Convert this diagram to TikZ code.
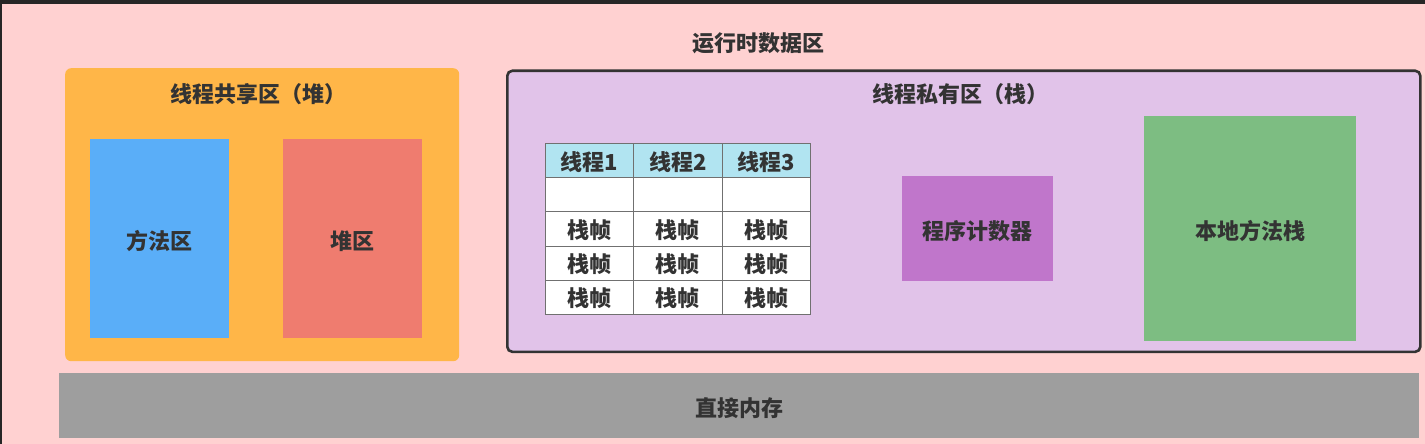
\documentclass[tikz,border=0pt]{standalone}
\usepackage{fontspec}
\setmainfont{Noto Sans CJK SC}
\begin{document}
\begin{tikzpicture}[x=1pt,y=-1pt,
  txt/.style={font=\fontsize{22}{25}\selectfont\bfseries, text=textc, inner sep=0pt},
  lbl/.style={txt, yshift=-2pt},
  area/.style={anchor=north west, inner sep=0pt, draw=none},
  cell/.style={anchor=north west, draw=gridc, line width=0.9pt, fill=white, minimum width=88.33pt, minimum height=34.2pt, inner sep=0pt, text depth=0pt, font=\fontsize{22}{25}\selectfont\bfseries, text=textc}
]
\definecolor{pinkbg}{HTML}{FFD1D1}
\definecolor{darkbg}{HTML}{262626}
\definecolor{orangec}{HTML}{FFB648}
\definecolor{bluec}{HTML}{5AAEF8}
\definecolor{redc}{HTML}{EF7C6F}
\definecolor{purplebg}{HTML}{E1C3E9}
\definecolor{purplec}{HTML}{C076CB}
\definecolor{greenc}{HTML}{7DBD82}
\definecolor{grayc}{HTML}{9E9E9E}
\definecolor{headc}{HTML}{B1E4F1}
\definecolor{gridc}{HTML}{707070}
\definecolor{textc}{HTML}{333333}
\definecolor{borderc}{HTML}{333333}

\useasboundingbox (0,0) rectangle (1425,444);
\fill[darkbg] (0,0) rectangle (1425,444);
\fill[pinkbg] (2,4) rectangle (1425,444);

\node[txt] (title) at (758,43) {运行时数据区};

% shared area
\node[area, fill=orangec, rounded corners=6pt, minimum width=394pt, minimum height=293pt] (shared) at (65,68) {};
\node[txt] (sharedtitle) at (258,94) {线程共享区（堆）};
\node[area, fill=bluec, minimum width=139pt, minimum height=199pt] (method) at (90,139) {};
\node[lbl] (methodlbl) at (method.center) {方法区};
\node[area, fill=redc, minimum width=139pt, minimum height=199pt] (heap) at (283,139) {};
\node[lbl] (heaplbl) at (heap.center) {堆区};

% private area
\node[area, draw=borderc, line width=2.6pt, fill=purplebg, rounded corners=5pt, minimum width=913pt, minimum height=281pt] (private) at (506,69.5) {};
\node[txt] (privatetitle) at (960,94) {线程私有区（栈）};

% table
\foreach \c/\x in {1/545,2/633.33,3/721.67}{
  \node[cell, fill=headc] (h\c) at (\x,143) {线程\c};
  \node[cell] (e\c) at (\x,177.2) {};
  \node[cell] (ra\c) at (\x,211.4) {栈帧};
  \node[cell] (rb\c) at (\x,245.6) {栈帧};
  \node[cell] (rc\c) at (\x,279.8) {栈帧};
}

\node[area, fill=purplec, minimum width=151pt, minimum height=105pt] (pc) at (902,176) {};
\node[lbl] (pclbl) at (pc.center) {程序计数器};
\node[area, fill=greenc, minimum width=212pt, minimum height=225pt] (native) at (1144,116) {};
\node[lbl] (nativelbl) at (native.center) {本地方法栈};

% direct memory
\node[area, fill=grayc, minimum width=1360pt, minimum height=65pt] (direct) at (59,373) {};
\node[lbl] (directlbl) at (direct.center) {直接内存};
\end{tikzpicture}
\end{document}
